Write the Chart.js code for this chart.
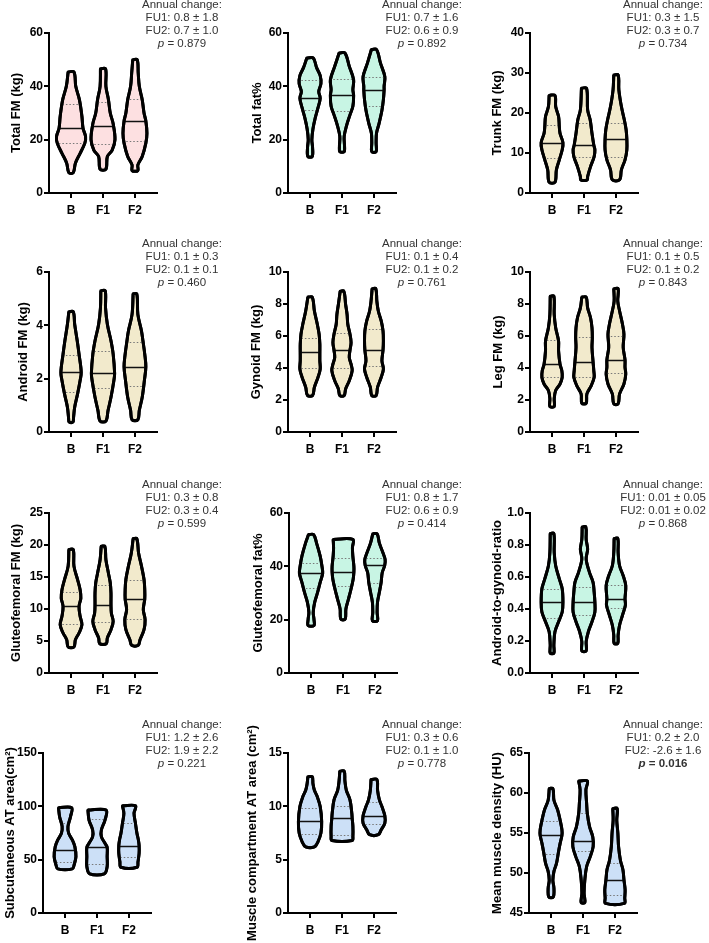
<!DOCTYPE html>
<html>
<head>
<meta charset="utf-8">
<script src="https://cdn.jsdelivr.net/npm/chart.js@4.4.1/dist/chart.umd.min.js"></script>
<style>
  html, body { margin: 0; padding: 0; background: #fff; overflow: hidden; }
  #wrap { position: relative; width: 709px; height: 943px; }
  #wrap canvas { position: absolute; }
</style>
</head>
<body>
<div id="wrap"></div>
<script>
// ---- data ----
const categories = ['B', 'F1', 'F2'];

const yTitles = [
  'Total FM (kg)', 'Total fat%', 'Trunk FM (kg)',
  'Android FM (kg)', 'Gynoid FM (kg)', 'Leg FM (kg)',
  'Gluteofemoral FM (kg)', 'Gluteofemoral fat%', 'Android-to-gynoid-ratio',
  'Subcutaneous AT area(cm²)', 'Muscle compartment AT area (cm²)', 'Mean muscle density (HU)'
];
const yMin  = [0, 0, 0, 0, 0, 0, 0, 0, 0, 0, 0, 45];
const yMax  = [60, 60, 40, 6, 10, 10, 25, 60, 1, 150, 15, 65];
const yStep = [20, 20, 10, 2, 2, 2, 5, 20, 0.2, 50, 5, 5];

const fu1Change = ['0.8 ± 1.8', '0.7 ± 1.6', '0.3 ± 1.5', '0.1 ± 0.3', '0.1 ± 0.4', '0.1 ± 0.5',
                   '0.3 ± 0.8', '0.8 ± 1.7', '0.01 ± 0.05', '1.2 ± 2.6', '0.3 ± 0.6', '0.2 ± 2.0'];
const fu2Change = ['0.7 ± 1.0', '0.6 ± 0.9', '0.3 ± 0.7', '0.1 ± 0.1', '0.1 ± 0.2', '0.1 ± 0.2',
                   '0.3 ± 0.4', '0.6 ± 0.9', '0.01 ± 0.02', '1.9 ± 2.2', '0.1 ± 1.0', '-2.6 ± 1.6'];
const pValues = ['0.879', '0.892', '0.734', '0.460', '0.761', '0.843',
                 '0.599', '0.414', '0.868', '0.221', '0.778', '0.016'];
const pSignificant = [false, false, false, false, false, false, false, false, false, false, false, true];

// violin outlines: [value, relative density] from max down to min, one list per group (B, F1, F2)
const totalFmProfiles = [
  [[45.4, 8], [40, 13], [35, 23], [28.7, 30], [24.3, 33], [21.2, 40], [18.7, 38], [14.9, 25], [11.2, 12], [7.6, 6]],
  [[46.6, 7], [40, 8], [35, 15], [30, 20], [26, 28], [20, 33], [16, 25], [13.7, 12], [8.9, 8]],
  [[50, 6], [45, 9], [40, 12], [35, 20], [30, 25], [27, 30], [22.4, 33], [18.7, 30], [13.7, 20], [10.5, 8], [8.4, 8]]
];
const totalFmQuartiles = [[18.7, 24.3, 33.3], [18.4, 25.3, 34.2], [19.4, 27.1, 35.2]];

const totalFatProfiles = [
  [[50.6, 9], [47, 18], [44, 28], [41, 30], [38, 24], [35.6, 28], [32, 22], [28, 14], [24, 8], [20, 5], [17, 7], [13.7, 6]],
  [[52.5, 8], [47.5, 20], [42.5, 32], [38.7, 30], [36.6, 32], [32.5, 30], [29.3, 22], [25, 12], [21.2, 6], [17.4, 7], [15.5, 6]],
  [[53.8, 7], [48.7, 18], [43.6, 30], [40, 28], [38.7, 28], [35, 26], [31, 22], [26, 14], [22.4, 7], [18.7, 6], [15.5, 6]]
];
const totalFatQuartiles = [[31, 35.6, 42.2], [30.8, 36.6, 42.7], [32.7, 38.7, 43.4]];

const trunkFmProfiles = [
  [[24.4, 8], [21.6, 10], [19.1, 18], [16.6, 20], [14.9, 22], [12.6, 30], [10.8, 28], [8.3, 20], [5.8, 12], [2.7, 8]],
  [[26.2, 7], [20.8, 10], [18.3, 17], [14.9, 22], [12, 27], [10.8, 30], [9.1, 28], [6.6, 18], [4.1, 10], [3.3, 9]],
  [[29.5, 6], [25.8, 8], [21.6, 15], [18.3, 23], [15.8, 28], [13.4, 30], [10.8, 30], [8.3, 25], [5.8, 15], [3.3, 10]]
];
const trunkFmQuartiles = [[8.7, 12.6, 16.9], [9.1, 12.0, 17.4], [9.1, 13.4, 17.6]];

const androidFmProfiles = [
  [[4.51, 6], [4.04, 10], [3.42, 17], [2.92, 22], [2.24, 28], [1.93, 25], [1.43, 18], [0.93, 10], [0.56, 7], [0.37, 5]],
  [[5.3, 6], [4.66, 7], [4.04, 12], [3.42, 22], [2.92, 28], [2.2, 32], [1.93, 30], [1.3, 22], [0.81, 14], [0.41, 8]],
  [[5.18, 5], [4.41, 8], [3.79, 18], [3.42, 22], [2.92, 27], [2.45, 30], [1.93, 26], [1.3, 20], [0.81, 12], [0.46, 8]]
];
const androidFmQuartiles = [[1.49, 2.24, 2.90], [1.64, 2.20, 3.04], [1.74, 2.45, 3.38]];

const gynoidFmProfiles = [
  [[8.43, 6], [7.56, 12], [6.73, 20], [6.11, 25], [5.49, 27], [4.99, 27], [4.45, 27], [3.93, 28], [3.42, 22], [2.8, 12], [2.28, 7]],
  [[8.8, 5], [7.97, 10], [7.35, 14], [6.73, 16], [6.11, 22], [5.59, 25], [5.11, 22], [4.66, 20], [4.24, 25], [3.83, 28], [3.21, 20], [2.69, 10], [2.28, 6]],
  [[8.96, 5], [8.18, 8], [7.56, 12], [6.94, 20], [6.32, 25], [5.69, 26], [5.11, 25], [4.45, 22], [3.93, 26], [3.42, 20], [2.8, 10], [2.28, 6]]
];
const gynoidFmQuartiles = [[3.98, 4.99, 5.90], [4.02, 5.11, 6.17], [4.14, 5.11, 6.46]];

const legFmProfiles = [
  [[8.49, 5], [7.35, 6], [6.52, 10], [5.69, 18], [5.07, 18], [4.24, 22], [3.83, 27], [3.42, 28], [3.0, 22], [2.59, 10], [2.07, 6], [1.59, 6]],
  [[8.43, 6], [7.76, 10], [7.14, 18], [6.52, 22], [5.9, 23], [5.28, 22], [4.39, 25], [3.83, 27], [3.42, 28], [2.9, 20], [2.38, 8], [1.8, 6]],
  [[8.96, 6], [8.18, 5], [7.56, 10], [6.73, 18], [6.11, 22], [5.28, 20], [4.51, 25], [4.04, 25], [3.62, 27], [3.0, 22], [2.38, 10], [1.76, 6]]
];
const legFmQuartiles = [[3.42, 4.24, 5.73], [3.42, 4.39, 5.94], [3.66, 4.51, 6.0]];

const glutFmProfiles = [
  [[19.3, 6], [16.7, 8], [14.6, 18], [13.0, 25], [11.7, 27], [10.4, 22], [8.85, 25], [7.55, 30], [6.25, 22], [5.2, 12], [4.06, 8]],
  [[19.8, 5], [17.7, 8], [15.6, 15], [14.1, 20], [12.5, 22], [10.7, 22], [9.38, 23], [8.07, 28], [6.77, 22], [5.47, 12], [4.58, 9]],
  [[21.0, 5], [18.75, 10], [16.7, 18], [14.6, 25], [13.0, 27], [11.56, 27], [9.9, 23], [8.33, 28], [6.77, 25], [5.2, 14], [4.32, 9]]
];
const glutFmQuartiles = [[7.71, 10.4, 12.66], [7.92, 10.7, 13.7], [8.5, 11.56, 14.5]];

const glutFatProfiles = [
  [[51.9, 7], [48.8, 15], [43.9, 25], [40.1, 30], [37.4, 32], [33.9, 25], [30.2, 18], [26.5, 10], [22.7, 6], [20.2, 8], [17.8, 8]],
  [[50.1, 27], [47, 26], [44, 27], [40, 30], [37.8, 30], [35.2, 28], [31.4, 22], [27.7, 15], [24, 8], [20.2, 6]],
  [[52.2, 6], [48.8, 12], [45.1, 22], [42.6, 28], [40.4, 27], [37.6, 20], [33.9, 17], [30.2, 12], [26.5, 7], [22.7, 6], [19.6, 7]]
];
const glutFatQuartiles = [[32, 37.4, 41.4], [32.8, 37.8, 43], [33.9, 40.4, 43.2]];

const agRatioProfiles = [
  [[0.872, 5], [0.753, 6], [0.67, 10], [0.588, 20], [0.526, 28], [0.443, 30], [0.381, 28], [0.32, 18], [0.258, 8], [0.175, 5], [0.124, 5]],
  [[0.913, 5], [0.835, 6], [0.773, 10], [0.711, 6], [0.629, 15], [0.567, 25], [0.505, 28], [0.443, 30], [0.381, 30], [0.32, 22], [0.258, 12], [0.196, 6], [0.138, 6]],
  [[0.841, 5], [0.753, 6], [0.67, 10], [0.608, 20], [0.546, 27], [0.464, 25], [0.423, 26], [0.361, 18], [0.299, 10], [0.237, 6], [0.186, 5]]
];
const agRatioQuartiles = [[0.344, 0.443, 0.522], [0.361, 0.443, 0.540], [0.406, 0.464, 0.553]];

const subcutProfiles = [
  [[98.7, 18], [90.3, 15], [80.9, 8], [74.7, 10], [68.5, 20], [62.2, 27], [52.9, 30], [45.1, 25], [41.4, 20]],
  [[96.5, 25], [87.1, 22], [77.8, 12], [71.6, 12], [65.4, 22], [61.6, 28], [52.9, 28], [43.6, 28], [36.7, 20]],
  [[100.5, 18], [93.4, 14], [84, 18], [74.7, 22], [68.5, 26], [63.2, 28], [56, 28], [48.2, 25], [42.9, 22]]
];
const subcutQuartiles = [[48.2, 59.1, 84], [46.1, 61.6, 87.8], [52.3, 63.2, 84.7]];

const muscleAtProfiles = [
  [[12.77, 6], [12.15, 8], [11.5, 12], [10.9, 20], [9.98, 28], [8.58, 32], [7.5, 30], [6.7, 22], [6.2, 12]],
  [[13.3, 6], [12.4, 8], [11.5, 12], [10.6, 22], [9.36, 27], [8.89, 28], [8.12, 30], [7.19, 30], [6.8, 28]],
  [[12.52, 8], [11.5, 10], [10.6, 15], [9.98, 22], [9.11, 30], [8.43, 30], [7.81, 20], [7.34, 12]]
];
const muscleAtQuartiles = [[7.44, 8.58, 9.82], [7.28, 8.89, 10.07], [8.37, 9.11, 10.44]];

const densityProfiles = [
  [[60.56, 5], [59.1, 8], [57.9, 18], [56.6, 25], [55.4, 30], [54.71, 30], [53.7, 25], [52.5, 20], [51.2, 15], [50.2, 8], [49.1, 5], [48.1, 8], [46.99, 6]],
  [[61.5, 12], [60.4, 8], [58.7, 10], [57.4, 12], [55.8, 18], [54.5, 27], [53.3, 28], [52.05, 20], [50.8, 10], [49.1, 5], [47.5, 3], [46.3, 5]],
  [[58.07, 6], [56.6, 5], [55, 8], [53.3, 10], [51.6, 15], [50.4, 22], [49.07, 25], [47.9, 28], [46.9, 27], [46.2, 26]]
];
const densityQuartiles = [[52.4, 54.71, 56.5], [52.8, 54.05, 57.5], [47.3, 49.07, 51.3]];

// ---- styling / layout ----
const PINK = 'rgb(253,224,225)';
const MINT = 'rgb(200,245,228)';
const BEIGE = 'rgb(242,234,204)';
const BLUE = 'rgb(204,224,247)';

const panelProfiles = [totalFmProfiles, totalFatProfiles, trunkFmProfiles, androidFmProfiles, gynoidFmProfiles, legFmProfiles,
                       glutFmProfiles, glutFatProfiles, agRatioProfiles, subcutProfiles, muscleAtProfiles, densityProfiles];
const panelQuartiles = [totalFmQuartiles, totalFatQuartiles, trunkFmQuartiles, androidFmQuartiles, gynoidFmQuartiles, legFmQuartiles,
                        glutFmQuartiles, glutFatQuartiles, agRatioQuartiles, subcutQuartiles, muscleAtQuartiles, densityQuartiles];
const panelColors = [PINK, MINT, BEIGE, BEIGE, BEIGE, BEIGE, BEIGE, MINT, MINT, BLUE, BLUE, BLUE];

const colLeft = [0, 236, 472];
const colWidth = [236, 236, 237];
const rowPlotTop = [33, 272, 513, 753];
const axisLeft = [49, 52, 58, 49, 52, 58, 49, 53, 58, 43, 52, 57];
const titleCenter = [16, 21, 25.5, 23, 20, 26, 16, 22, 25.5, 10, 16, 25];
const noteCenter = [182, 186, 191];
const PLOT_W = 108, PLOT_H = 160, TOP_PAD = 50, XAXIS_H = 47, CANVAS_H = 270;
const DENS_SCALE = 1 / 88; // relative density -> category units

const FONT = '"Liberation Sans", Arial, sans-serif';

// quartile/median lines clipped to the violin, then outline on top
const violinLines = {
  id: 'violinLines',
  afterDatasetsDraw(chart) {
    const ctx = chart.ctx;
    const xs = chart.scales.x, ys = chart.scales.y;
    chart.data.datasets.forEach((ds, di) => {
      const line = chart.getDatasetMeta(di).dataset;
      if (!line) return;
      ctx.save();
      ctx.beginPath();
      line.path(ctx);
      ctx.closePath();
      ctx.clip();
      const x0 = xs.getPixelForValue(ds.group - 0.6);
      const x1 = xs.getPixelForValue(ds.group + 0.6);
      ds.quart.forEach((q, qi) => {
        const y = Math.round(ys.getPixelForValue(q)) + 0.5;
        ctx.beginPath();
        if (qi === 1) {
          ctx.setLineDash([]);
          ctx.strokeStyle = '#111';
          ctx.lineWidth = 1.6;
        } else {
          ctx.setLineDash([1.5, 2]);
          ctx.strokeStyle = '#777';
          ctx.lineWidth = 1;
        }
        ctx.moveTo(x0, y);
        ctx.lineTo(x1, y);
        ctx.stroke();
      });
      ctx.restore();
      ctx.save();
      ctx.beginPath();
      line.path(ctx);
      ctx.closePath();
      ctx.lineWidth = 3;
      ctx.lineJoin = 'round';
      ctx.strokeStyle = '#000';
      ctx.stroke();
      ctx.restore();
    });
  }
};

// "Annual change" note above each panel
const annualNote = {
  id: 'annualNote',
  afterDraw(chart, args, opts) {
    const ctx = chart.ctx;
    const p = opts.panel;
    const cx = noteCenter[p % 3];
    const y0 = chart.chartArea.top - 28;
    const lh = 13;
    ctx.save();
    ctx.fillStyle = '#333';
    ctx.textBaseline = 'middle';
    ctx.textAlign = 'center';
    ctx.font = '11.5px ' + FONT;
    ctx.fillText('Annual change:', cx, y0);
    ctx.fillText('FU1: ' + fu1Change[p], cx, y0 + lh);
    ctx.fillText('FU2: ' + fu2Change[p], cx, y0 + 2 * lh);
    const weight = pSignificant[p] ? 'bold ' : '';
    const rest = ' = ' + pValues[p];
    ctx.font = 'italic ' + weight + '11.5px ' + FONT;
    const w1 = ctx.measureText('p').width;
    ctx.font = weight + '11.5px ' + FONT;
    const w2 = ctx.measureText(rest).width;
    const start = cx - (w1 + w2) / 2;
    ctx.textAlign = 'left';
    ctx.font = 'italic ' + weight + '11.5px ' + FONT;
    ctx.fillText('p', start, y0 + 3 * lh);
    ctx.font = weight + '11.5px ' + FONT;
    ctx.fillText(rest, start + w1, y0 + 3 * lh);
    ctx.restore();
  }
};

function violinPoints(profile, group) {
  const left = profile.map(([v, d]) => ({ x: group - d * DENS_SCALE, y: v }));
  const right = profile.slice().reverse().map(([v, d]) => ({ x: group + d * DENS_SCALE, y: v }));
  return left.concat(right, [left[0]]);
}

function drawPanel(p) {
  const row = Math.floor(p / 3), col = p % 3;
  const w = colWidth[col];
  const canvas = document.createElement('canvas');
  canvas.width = w;
  canvas.height = CANVAS_H;
  canvas.style.left = colLeft[col] + 'px';
  canvas.style.top = (rowPlotTop[row] - TOP_PAD) + 'px';
  document.getElementById('wrap').appendChild(canvas);

  const datasets = categories.map((c, g) => ({
    label: c,
    group: g,
    quart: panelQuartiles[p][g],
    data: violinPoints(panelProfiles[p][g], g),
    showLine: true,
    fill: 'shape',
    backgroundColor: panelColors[p],
    borderColor: '#000',
    borderWidth: 3,
    pointRadius: 0,
    tension: 0.35
  }));

  const isRatio = p === 8;

  new Chart(canvas, {
    type: 'scatter',
    data: { datasets },
    options: {
      responsive: false,
      animation: false,
      devicePixelRatio: 1,
      layout: { padding: { top: TOP_PAD, left: 0, right: w - axisLeft[p] - PLOT_W, bottom: CANVAS_H - TOP_PAD - PLOT_H - XAXIS_H } },
      plugins: {
        legend: { display: false },
        tooltip: { enabled: false },
        annualNote: { panel: p }
      },
      scales: {
        x: {
          type: 'linear',
          min: -0.69,
          max: 2.69,
          afterBuildTicks: s => { s.ticks = categories.map((c, i) => ({ value: i })); },
          afterFit: s => { s.height = XAXIS_H; },
          ticks: {
            autoSkip: false,
            maxRotation: 0,
            padding: 5,
            color: '#000',
            font: { family: FONT, size: 12, weight: 'bold' },
            callback: v => categories[v]
          },
          grid: { drawOnChartArea: false, drawTicks: true, tickLength: 5, color: '#000', lineWidth: 2 },
          border: { display: true, color: '#000', width: 2 }
        },
        y: {
          min: yMin[p],
          max: yMax[p],
          afterFit: s => { s.width = axisLeft[p]; },
          ticks: {
            stepSize: yStep[p],
            padding: 1,
            color: '#000',
            font: { family: FONT, size: 12, weight: 'bold' },
            callback: v => isRatio ? Number(v).toFixed(1) : v
          },
          grid: { drawOnChartArea: false, drawTicks: true, tickLength: 5, color: '#000', lineWidth: 2 },
          border: { display: true, color: '#000', width: 2 },
          title: {
            display: true,
            text: yTitles[p],
            color: '#000',
            font: { family: FONT, size: 13, weight: 'bold' },
            padding: { top: titleCenter[p] - 7.8, bottom: 0 }
          }
        }
      }
    },
    plugins: [violinLines, annualNote]
  });
}

for (let p = 0; p < 12; p++) drawPanel(p);
</script>
</body>
</html>
